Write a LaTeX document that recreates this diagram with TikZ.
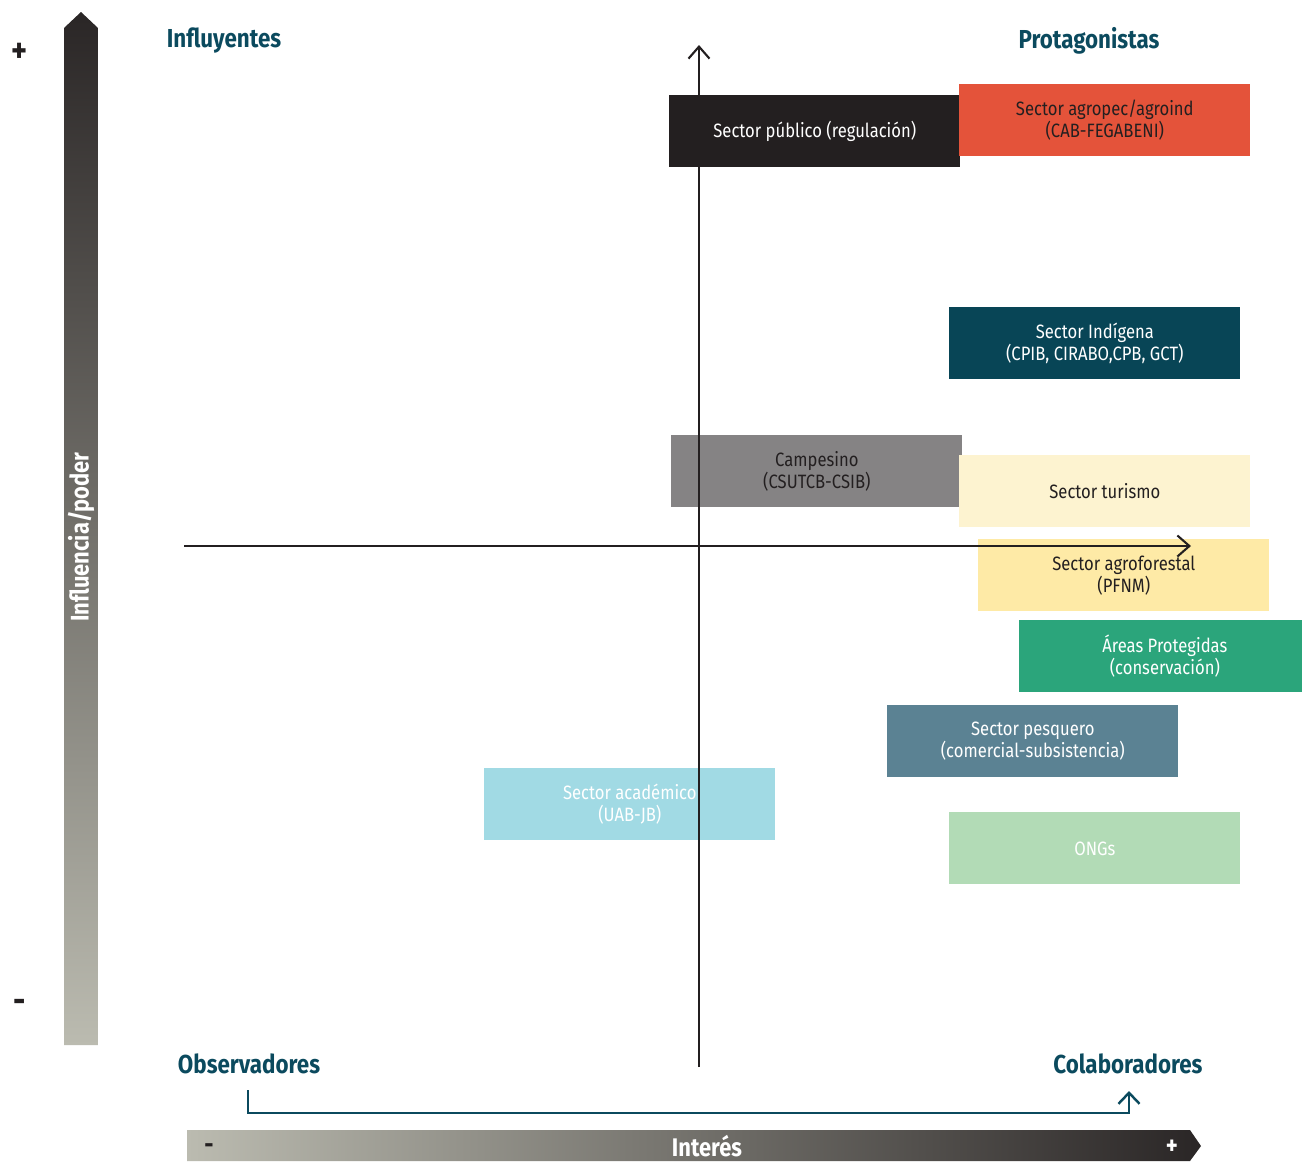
\documentclass[tikz,border=0pt]{standalone}
\usepackage{fontspec}
\setmainfont{Fira Sans}[FakeStretch=0.86]
\usetikzlibrary{arrows.meta}
\definecolor{teal}{HTML}{0B4A5E}
\definecolor{cpub}{HTML}{231F20}
\definecolor{cagro}{HTML}{E4533A}
\definecolor{cind}{HTML}{084556}
\definecolor{ccamp}{HTML}{858384}
\definecolor{ctur}{HTML}{FDF3D0}
\definecolor{cfor}{HTML}{FEEAA6}
\definecolor{cap}{HTML}{2BA57B}
\definecolor{cpes}{HTML}{5B8293}
\definecolor{cacad}{HTML}{A1DAE4}
\definecolor{congs}{HTML}{B2DBB6}
\definecolor{gdark}{HTML}{2A2626}
\definecolor{glight}{HTML}{BBBBB0}
\definecolor{txtd}{HTML}{231F20}
\tikzset{
  box/.style={rectangle, anchor=north west, minimum width=5.82cm, minimum height=1.44cm,
    inner sep=0pt, align=center, font=\fontsize{11}{12.5}\selectfont},
  quad/.style={font=\bfseries\fontsize{14.8}{16}\selectfont, text=teal},
  axisline/.style={line width=1.2pt, draw=txtd, -{Straight Barb[length=2.4mm,width=4.2mm]}},
  sign/.style={inner sep=0pt, font=\bfseries\fontsize{20}{20}\selectfont},
  smallsign/.style={inner sep=0pt, font=\bfseries\fontsize{15}{15}\selectfont},
  barlab/.style={text=white, font=\bfseries\fontsize{14.5}{16}\selectfont}
}
\begin{document}
\begin{tikzpicture}[x=0.02cm,y=-0.02cm]
\useasboundingbox (0,0) rectangle (1302,1161);
% vertical gradient bar
\shade[top color=gdark, bottom color=glight] (64,28) -- (81,12) -- (98,28) -- (98,1045) -- (64,1045) -- cycle;
\node[rotate=90, barlab] (ylab) at (81,537) {Influencia/poder};
\node[sign, text=txtd] (yplus) at (20,53) {+};
\node[sign, text=txtd] (yminus) at (20,1006) {-};
% bottom gradient bar
\shade[left color=glight, right color=gdark] (187,1130) -- (1190,1130) -- (1201,1146) -- (1190,1161) -- (187,1161) -- cycle;
\node[barlab] (xlab) at (707,1146) {Interés};
\node[smallsign, text=txtd] (xminus) at (209,1149) {-};
\node[smallsign, text=white] (xplus) at (1172,1147) {+};
% quadrant labels
\node[quad] (infl) at (224,41) {Influyentes};
\node[quad] (prot) at (1089,41) {Protagonistas};
\node[quad] (obs) at (249,1064) {Observadores};
\node[quad] (col) at (1128,1064) {Colaboradores};
% boxes
\node[box, fill=cpub, text=white] (pub) at (669,95) {Sector público (regulación)};
\node[box, fill=cagro, text=txtd] (agro) at (959,84) {Sector agropec/agroind\\(CAB-FEGABENI)};
\node[box, fill=cind, text=white] (ind) at (949,307) {Sector Indígena\\(CPIB, CIRABO,CPB, GCT)};
\node[box, fill=ccamp, text=txtd] (camp) at (671,435) {Campesino\\(CSUTCB-CSIB)};
\node[box, fill=ctur, text=txtd] (tur) at (959,455) {Sector turismo};
\node[box, fill=cfor, text=txtd] (for) at (978,539) {Sector agroforestal\\(PFNM)};
\node[box, fill=cap, text=white] (ap) at (1019,620) {Áreas Protegidas\\(conservación)};
\node[box, fill=cpes, text=white] (pes) at (887,705) {Sector pesquero\\(comercial-subsistencia)};
\node[box, fill=cacad, text=white] (acad) at (484,768) {Sector académico\\(UAB-JB)};
\node[box, fill=congs, text=white] (ongs) at (949,812) {ONGs};
% axes
\coordinate (vbot) at (699,1067);
\coordinate (vtop) at (699,45);
\coordinate (hl) at (184,546);
\coordinate (hr) at (1191,546);
\draw[axisline] (vbot) -- (vtop);
\draw[axisline] (hl) -- (hr);
% bracket
\coordinate (b1) at (248,1090);
\coordinate (b2) at (1129,1091);
\draw[line width=1.4pt, draw=teal, -{Straight Barb[length=2.2mm,width=4.2mm]}] (b1) |- (1129,1113) -- (b2);
\end{tikzpicture}
\end{document}
